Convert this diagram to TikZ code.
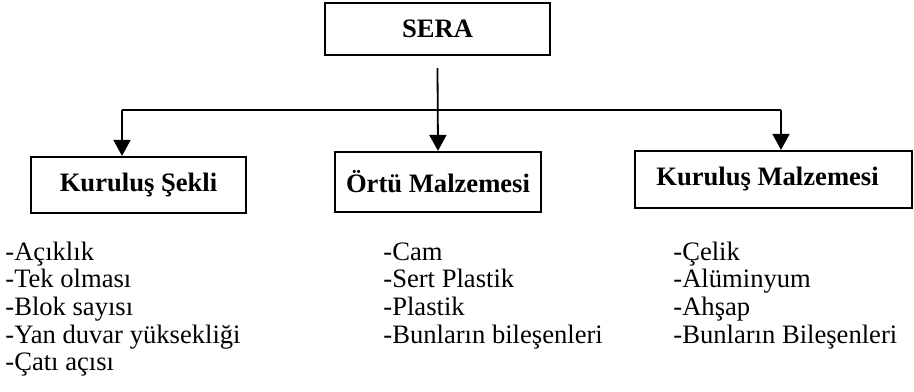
\documentclass[tikz,border=0pt]{standalone}
\usepackage{fontspec}
\setmainfont{Liberation Serif}
\usetikzlibrary{arrows.meta}
\begin{document}
\begin{tikzpicture}[x=0.5pt,y=-0.5pt,
  box/.style={draw,line width=1.1pt,inner sep=0pt,font=\fontsize{13.3}{15}\selectfont\bfseries},
  conn/.style={line width=0.9pt},
  arr/.style={conn,-{Triangle[width=8.5pt,length=8pt]}},
  item/.style={anchor=base west,inner sep=0pt,font=\fontsize{13.3}{15}\selectfont}]
\useasboundingbox (0,0) rectangle (914,391);
\node[box,minimum width=112.5pt,minimum height=26pt] (sera) at (437.5,29) {SERA};
\node[box,minimum width=107.5pt,minimum height=28pt] (sekli) at (138.5,185) {Kuruluş Şekli};
\node[box,minimum width=103pt,minimum height=30pt] (ortu) at (438,182) {Örtü Malzemesi};
\node[box,minimum width=138.5pt,minimum height=28.5pt] (kmal) at (773.5,179.5) {Kuruluş Malzemesi\hspace*{6pt}};
\coordinate (hl) at (122,110);
\coordinate (hr) at (781,110);
\draw[conn] (hl) -- (hr);
\draw[arr] ([yshift=-6pt]sera.south) -- (ortu.north);
\draw[arr] (hl) -- (hl |- sekli.north);
\draw[arr] (hr) -- (hr |- kmal.north);
\foreach \t [count=\i] in {-Açıklık,-Tek olması,-Blok sayısı,-Yan duvar yüksekliği,-Çatı açısı}
  \node[item] (a\i) at (5,{260+27.7*(\i-1)}) {\t};
\foreach \t [count=\i] in {-Cam,-Sert Plastik,-Plastik,-Bunların bileşenleri}
  \node[item] (b\i) at (383,{260+27.7*(\i-1)}) {\t};
\foreach \t [count=\i] in {-Çelik,-Alüminyum,-Ahşap,-Bunların Bileşenleri}
  \node[item] (c\i) at (673,{260+27.7*(\i-1)}) {\t};
\end{tikzpicture}
\end{document}
